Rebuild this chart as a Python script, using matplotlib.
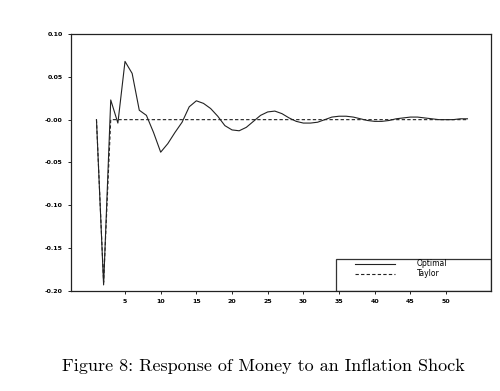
import matplotlib
matplotlib.use("Agg")
import matplotlib.pyplot as plt
from matplotlib.patches import Rectangle

periods = list(range(1, 54))
optimal = [0.0, -0.193, 0.023, -0.004, 0.068, 0.054, 0.011, 0.005, -0.015, -0.038,
           -0.028, -0.015, -0.003, 0.015, 0.022, 0.019, 0.013, 0.004, -0.007, -0.012,
           -0.013, -0.009, -0.002, 0.005, 0.009, 0.010, 0.007, 0.002, -0.002, -0.004,
           -0.004, -0.003, 0.000, 0.003, 0.004, 0.004, 0.003, 0.001, -0.001, -0.002,
           -0.002, -0.001, 0.001, 0.002, 0.003, 0.003, 0.002, 0.001, 0.000, 0.000,
           0.000, 0.001, 0.001]
taylor = [0.0, -0.19] + [0.0] * 51
xticks = [5, 10, 15, 20, 25, 30, 35, 40, 45, 50]
yticks = [0.10, 0.05, 0.00, -0.05, -0.10, -0.15, -0.20]
ylabels = ["0.10", "0.05", "-0.00", "-0.05", "-0.10", "-0.15", "-0.20"]
caption = "Figure 8: Response of Money to an Inflation Shock"

fig = plt.figure(figsize=(5.0, 3.91), dpi=100)
ax = fig.add_axes([0.142, 0.256, 0.840, 0.657])
ax.plot(periods, optimal, color='#222222', lw=0.8, label='Optimal')
ax.plot(periods, taylor, color='#222222', lw=0.8, ls=(0, (3, 2)), label='Taylor')
ax.set_xlim(-2.57, 56.3)
ax.set_ylim(-0.20, 0.10)
ax.set_xticks(xticks)
ax.set_xticklabels([str(v) for v in xticks], fontsize=4.5, fontweight='bold')
ax.set_yticks(yticks)
ax.set_yticklabels(ylabels, fontsize=4.5, fontweight='bold')
ax.tick_params(length=2, width=0.6, pad=4)
for s in ax.spines.values():
    s.set_linewidth(0.9)
    s.set_color('#222222')

ax.add_patch(Rectangle((0.631, 0.0), 0.369, 0.125, transform=ax.transAxes,
                       fill=False, edgecolor='#333333', lw=0.9, zorder=5))
leg = ax.legend(loc='center left', bbox_to_anchor=(0.676, 0.086), fontsize=5.5,
                frameon=False, borderaxespad=0, borderpad=0, handlelength=5.2,
                handletextpad=2.9, labelspacing=0.1)

fig.text(0.527, 0.064, caption, ha='center', va='center', fontsize=13,
         family=['cmr10', 'DejaVu Serif'])
fig.savefig('out.png', dpi=100)
